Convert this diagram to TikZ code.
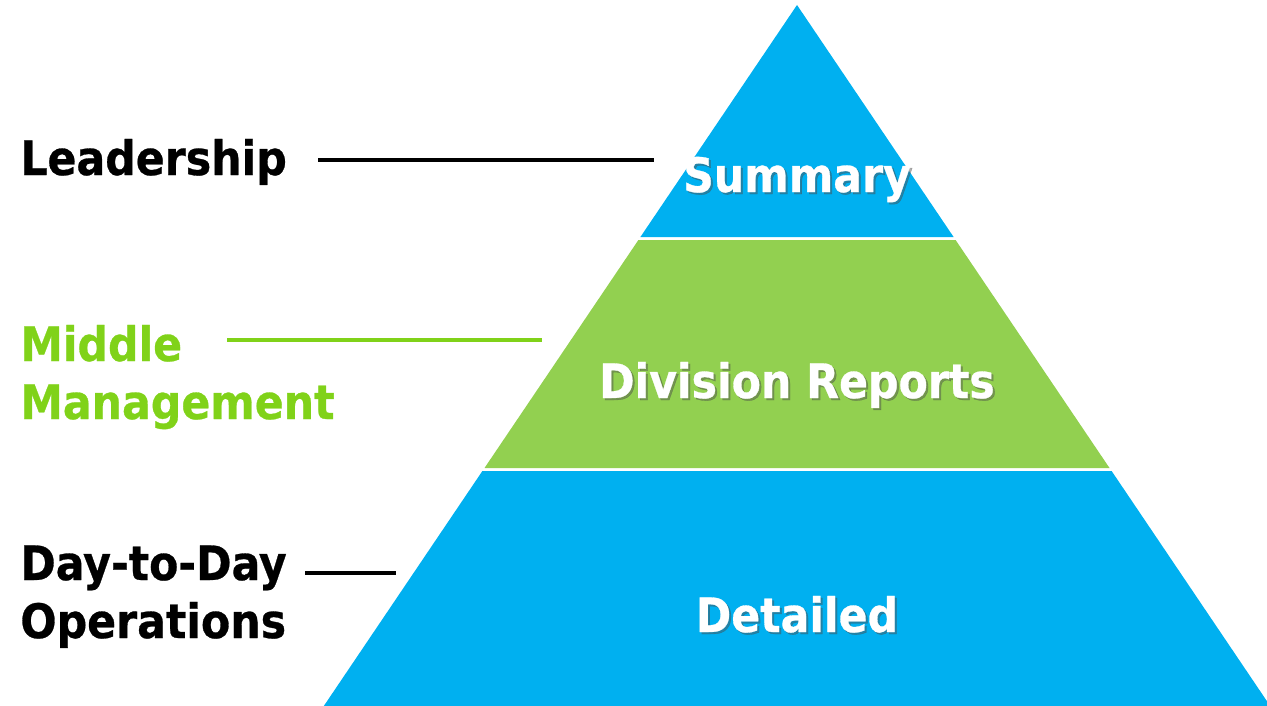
\documentclass[tikz,border=0pt]{standalone}
\usepackage{fontspec}
\setmainfont{DejaVu Sans Condensed}[BoldFeatures={FakeBold=0.6}]
\usetikzlibrary{positioning}
\definecolor{pyrblue}{RGB}{0,176,240}
\definecolor{pyrgreen}{RGB}{146,208,80}
\definecolor{labgreen}{RGB}{128,210,25}

\begin{document}
\begin{tikzpicture}[x=0.02cm,y=-0.02cm,
    lab/.style={anchor=base west, inner sep=0pt, align=left, font=\fontsize{27}{33}\bfseries},
    tier/.style={anchor=base, inner sep=0pt, text=white, font=\fontsize{27}{33}\bfseries},
    tiershadow/.style={tier, text=black!70, opacity=0.45}]

    \useasboundingbox (0,0) rectangle (1267,706);

    % pyramid
    \begin{scope}
    \clip (0,0) rectangle (1267,706);
    \fill[pyrblue] (797,5) -- (953.6,237) -- (640.4,237) -- cycle;
    \fill[pyrgreen] (638.4,240) -- (955.6,240) -- (1109.5,468) -- (484.5,468) -- cycle;
    \fill[pyrblue] (482.4,471) -- (1111.6,471) -- (1270.2,706) -- (323.8,706) -- cycle;
    \end{scope}

    \node[tiershadow] (sumS) at (799,194) {Summary};
    \node[tier] (sum) at (797,192) {Summary};
    \node[tiershadow] (divS) at (799,400) {Division Reports};
    \node[tier] (div) at (797,398) {Division Reports};
    \node[tiershadow] (detS) at (799,634) {Detailed};
    \node[tier] (det) at (797,632) {Detailed};

    % labels
    \node[lab] (lead) at (20,175) {Leadership};
    \node[lab, text=labgreen] (mid) at (20,419) {Middle\\Management};
    \node[lab] (ops) at (20,638) {Day-to-Day\\Operations};

    \coordinate (leadA) at (318,160);
    \coordinate (leadB) at (654,160);
    \coordinate (midA) at (227,340);
    \coordinate (midB) at (542,340);
    \coordinate (opsA) at (305,573);
    \coordinate (opsB) at (396,573);

    \draw[line width=2pt] (leadA) -- (leadB);
    \draw[labgreen, line width=2pt] (midA) -- (midB);
    \draw[line width=2pt] (opsA) -- (opsB);
\end{tikzpicture}
\end{document}
